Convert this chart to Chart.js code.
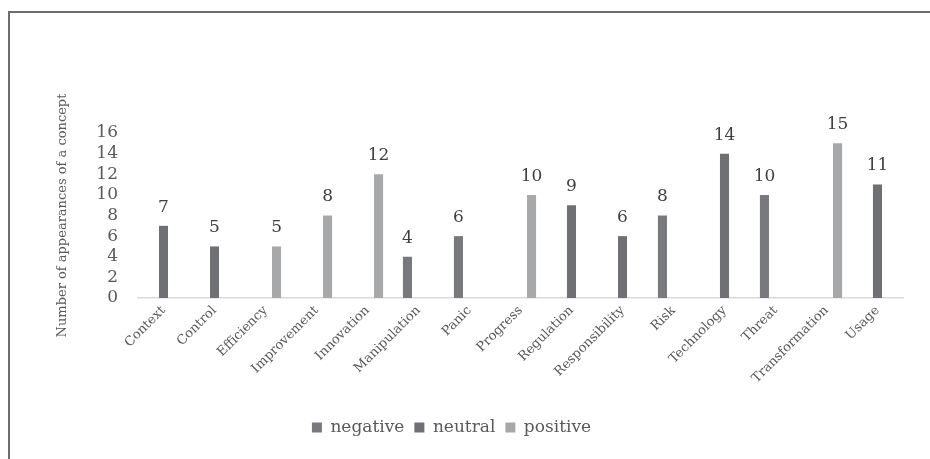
<!DOCTYPE html>
<html>
<head>
<meta charset="utf-8">
<script src="https://cdn.jsdelivr.net/npm/chart.js@4/dist/chart.umd.min.js"></script>
<style>
  html, body { margin: 0; padding: 0; background: #ffffff; }
  #wrap { width: 930px; height: 459px; }
</style>
</head>
<body>
<div id="wrap"><canvas id="c" width="930" height="459"></canvas></div>
<script>
// Concepts along the x axis
const categories = ['Context', 'Control', 'Efficiency', 'Improvement', 'Innovation', 'Manipulation',
  'Panic', 'Progress', 'Regulation', 'Responsibility', 'Risk', 'Technology', 'Threat',
  'Transformation', 'Usage'];

// Appearances per concept, split by sentiment (null = concept not in that group)
const negative = [null, null, null, null, null, 4, 6, null, null, null, 8, null, 10, null, null];
const neutral  = [7, 5, null, null, null, null, null, null, 9, 6, null, 14, null, null, 11];
const positive = [null, null, 5, 8, 12, null, null, 10, null, null, null, null, null, 15, null];

const seriesNames = ['negative', 'neutral', 'positive'];
const yTicks = [0, 2, 4, 6, 8, 10, 12, 14, 16];

const serif = 'DejaVu Serif';

// White background plus the thin frame along the top and left edges
const framePlugin = {
  id: 'frame',
  beforeDraw(chart) {
    const ctx = chart.ctx;
    ctx.save();
    ctx.fillStyle = '#ffffff';
    ctx.fillRect(0, 0, chart.width, chart.height);
    ctx.strokeStyle = '#6b6e6b';
    ctx.lineWidth = 2;
    ctx.beginPath();
    ctx.moveTo(9, chart.height);
    ctx.lineTo(9, 12);
    ctx.lineTo(chart.width, 12);
    ctx.stroke();
    ctx.restore();
  }
};

// Value written above each bar
const valueLabels = {
  id: 'valueLabels',
  afterDatasetsDraw(chart) {
    const ctx = chart.ctx;
    ctx.save();
    ctx.font = '17px "' + serif + '"';
    ctx.fillStyle = '#404040';
    ctx.textAlign = 'center';
    ctx.textBaseline = 'bottom';
    chart.data.datasets.forEach((ds, di) => {
      const meta = chart.getDatasetMeta(di);
      meta.data.forEach((bar, i) => {
        const v = ds.data[i];
        if (v === null || v === undefined) return;
        ctx.fillText(String(v), bar.x, bar.y - 10);
      });
    });
    ctx.restore();
  }
};

new Chart(document.getElementById('c'), {
  type: 'bar',
  data: {
    labels: categories,
    datasets: [
      { label: seriesNames[0], data: negative, backgroundColor: '#78797d' },
      { label: seriesNames[1], data: neutral,  backgroundColor: '#6f7074' },
      { label: seriesNames[2], data: positive, backgroundColor: '#a7a8aa' }
    ]
  },
  options: {
    responsive: false,
    animation: false,
    devicePixelRatio: 1,
    layout: { padding: { left: 0, right: 27, top: 133, bottom: 13 } },
    datasets: {
      bar: { categoryPercentage: 0.65, barPercentage: 0.82 }
    },
    plugins: {
      legend: {
        position: 'bottom',
        labels: {
          color: '#595959',
          font: { family: serif, size: 17 },
          boxWidth: 10,
          boxHeight: 10,
          padding: 10
        }
      },
      tooltip: { enabled: false }
    },
    scales: {
      x: {
        grid: { display: false, drawTicks: false },
        border: { display: true, color: '#d9d9d9', width: 1.5 },
        ticks: {
          color: '#595959',
          font: { family: serif, size: 13 },
          minRotation: 45,
          maxRotation: 45,
          autoSkip: false,
          padding: 5
        },
        afterFit(scale) { scale.height = 111; }
      },
      y: {
        min: 0,
        max: 16,
        grid: { display: false, drawTicks: false },
        border: { display: false },
        afterBuildTicks(scale) { scale.ticks = yTicks.map(v => ({ value: v })); },
        ticks: {
          color: '#595959',
          font: { family: serif, size: 17 },
          autoSkip: false,
          padding: 20
        },
        title: {
          display: true,
          text: 'Number of appearances of a concept',
          color: '#595959',
          font: { family: serif, size: 13 },
          padding: { top: 55, bottom: 0 }
        },
        afterFit(scale) { scale.width = 138; }
      }
    }
  },
  plugins: [framePlugin, valueLabels]
});
</script>
</body>
</html>
